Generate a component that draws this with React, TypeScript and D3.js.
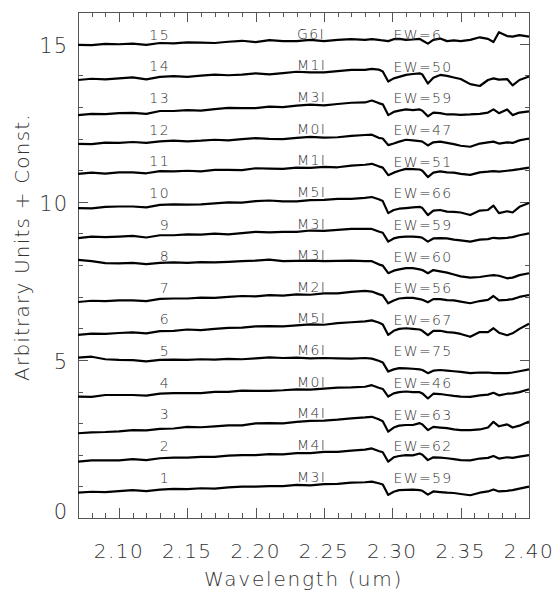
import React from 'react';
import * as d3 from 'd3';

// wavelength grid (um), coarse on the continuum, finer across the CO bands
const wavelength = [
  2.07, 2.08, 2.09, 2.10, 2.11, 2.12, 2.13, 2.14, 2.15, 2.16, 2.17,
  2.18, 2.19, 2.20, 2.21, 2.22, 2.23, 2.24, 2.25, 2.26, 2.27, 2.28,
  2.285, 2.290, 2.293, 2.297, 2.301, 2.305, 2.310, 2.315, 2.320, 2.322,
  2.326, 2.330, 2.335, 2.340, 2.345, 2.350, 2.357, 2.364, 2.370, 2.374,
  2.378, 2.384, 2.388, 2.393, 2.400
];

// flux + offset, one array per star
const flux1 = [0.80, 0.83, 0.82, 0.85, 0.88, 0.85, 0.90, 0.92, 0.91, 0.94, 0.93, 0.97, 0.99, 0.99, 1.01, 1.01, 1.05, 1.03, 1.07, 1.08, 1.12, 1.13,
  1.15, 1.10, 1.06, 0.73, 0.83, 0.88, 0.89, 0.90, 0.88, 0.86, 0.74, 0.84, 0.82, 0.80, 0.79, 0.76, 0.72, 0.80, 0.84, 0.90, 0.84, 0.86, 0.88, 0.93, 0.99];
const flux2 = [1.78, 1.82, 1.82, 1.82, 1.86, 1.83, 1.89, 1.91, 1.91, 1.93, 1.93, 1.97, 1.99, 1.99, 2.02, 2.01, 2.05, 2.05, 2.09, 2.09, 2.13, 2.16,
  2.20, 2.12, 2.08, 1.78, 1.92, 1.96, 1.99, 1.98, 2.04, 2.00, 1.83, 1.92, 1.91, 1.89, 1.86, 1.83, 1.82, 1.88, 1.90, 1.96, 1.88, 1.92, 1.90, 1.94, 1.99];
const flux3 = [2.68, 2.71, 2.72, 2.74, 2.78, 2.77, 2.82, 2.83, 2.88, 2.87, 2.90, 2.93, 2.93, 2.99, 3.00, 2.99, 3.04, 3.07, 3.08, 3.11, 3.15, 3.18,
  3.20, 3.12, 3.06, 2.73, 2.86, 2.92, 2.94, 2.94, 3.00, 2.96, 2.78, 2.88, 2.86, 2.84, 2.80, 2.78, 2.78, 2.80, 2.86, 3.04, 2.90, 2.96, 2.86, 2.92, 3.05];
const flux4 = [3.84, 3.83, 3.89, 3.89, 3.89, 3.87, 3.93, 3.95, 3.95, 3.95, 3.99, 3.99, 4.03, 4.02, 4.02, 4.04, 4.07, 4.06, 4.09, 4.12, 4.13, 4.15,
  4.20, 4.12, 4.08, 3.84, 3.94, 3.98, 4.00, 3.98, 3.98, 3.94, 3.78, 3.93, 3.92, 3.89, 3.86, 3.84, 3.83, 3.88, 3.90, 3.96, 3.88, 3.93, 3.94, 3.98, 4.07];
const flux5 = [5.07, 5.10, 5.02, 5.00, 4.99, 4.95, 5.00, 5.01, 5.00, 5.02, 5.01, 5.03, 5.02, 5.05, 5.08, 5.06, 5.07, 5.05, 5.06, 5.05, 5.04, 5.06,
  5.04, 4.97, 4.92, 4.63, 4.70, 4.74, 4.73, 4.72, 4.70, 4.68, 4.58, 4.66, 4.68, 4.66, 4.64, 4.62, 4.58, 4.60, 4.60, 4.58, 4.58, 4.58, 4.60, 4.64, 4.70];
const flux6 = [5.79, 5.83, 5.82, 5.85, 5.87, 5.84, 5.91, 5.92, 5.96, 5.94, 5.98, 6.01, 6.02, 6.06, 6.07, 6.06, 6.09, 6.12, 6.11, 6.16, 6.19, 6.22,
  6.25, 6.18, 6.12, 5.79, 5.92, 5.98, 6.00, 5.98, 5.96, 5.92, 5.78, 5.92, 5.92, 5.88, 5.86, 5.82, 5.73, 5.88, 5.88, 6.00, 5.86, 5.78, 5.84, 5.98, 6.14];
const flux7 = [6.83, 6.87, 6.86, 6.88, 6.88, 6.86, 6.93, 6.94, 6.94, 6.97, 6.96, 6.99, 7.02, 7.01, 7.05, 7.03, 7.07, 7.06, 7.10, 7.10, 7.15, 7.18,
  7.16, 7.08, 7.04, 6.79, 6.88, 6.94, 6.96, 6.96, 6.92, 6.90, 6.82, 6.92, 6.92, 6.89, 6.88, 6.84, 6.79, 6.86, 6.90, 7.02, 6.88, 6.90, 6.92, 6.99, 7.05];
const flux8 = [8.16, 8.12, 8.06, 8.05, 8.07, 8.03, 8.07, 8.08, 8.07, 8.09, 8.08, 8.10, 8.12, 8.14, 8.17, 8.12, 8.13, 8.14, 8.12, 8.13, 8.14, 8.12,
  8.12, 8.02, 7.98, 7.74, 7.82, 7.86, 7.90, 7.90, 7.86, 7.84, 7.74, 7.84, 7.80, 7.76, 7.70, 7.64, 7.60, 7.62, 7.66, 7.68, 7.66, 7.58, 7.60, 7.68, 7.74];
const flux9 = [8.85, 8.90, 8.88, 8.90, 8.92, 8.87, 8.94, 8.94, 8.97, 8.96, 8.99, 8.97, 9.01, 9.05, 9.03, 9.05, 9.05, 9.09, 9.08, 9.11, 9.14, 9.14,
  9.14, 9.06, 9.02, 8.74, 8.84, 8.88, 8.90, 8.90, 8.88, 8.86, 8.74, 8.84, 8.85, 8.84, 8.80, 8.78, 8.74, 8.80, 8.82, 8.86, 8.84, 8.86, 8.88, 8.94, 9.00];
const flux10 = [9.80, 9.79, 9.84, 9.85, 9.85, 9.82, 9.90, 9.92, 9.91, 9.92, 9.95, 9.98, 9.97, 10.02, 10.04, 10.01, 10.01, 10.05, 10.06, 10.09, 10.09, 10.12,
  10.15, 10.08, 10.02, 9.64, 9.74, 9.78, 9.80, 9.82, 9.84, 9.80, 9.58, 9.72, 9.74, 9.69, 9.68, 9.66, 9.58, 9.72, 9.74, 9.88, 9.64, 9.70, 9.66, 9.84, 9.96];
const flux11 = [10.88, 10.92, 10.89, 10.93, 10.93, 10.90, 10.97, 10.96, 10.98, 10.96, 11.01, 11.01, 11.00, 11.06, 11.05, 11.04, 11.08, 11.07, 11.10, 11.09, 11.14, 11.17,
  11.20, 11.12, 11.08, 10.84, 10.92, 10.98, 11.04, 11.03, 11.02, 10.98, 10.78, 10.92, 10.96, 10.93, 10.92, 10.88, 10.85, 10.93, 10.95, 10.97, 10.95, 10.98, 11.00, 11.03, 11.08];
const flux12 = [11.83, 11.82, 11.87, 11.86, 11.89, 11.86, 11.91, 11.93, 11.91, 11.93, 11.96, 11.94, 11.98, 12.01, 11.99, 11.98, 12.02, 12.05, 12.03, 12.04, 12.08, 12.11,
  12.12, 12.02, 12.00, 11.79, 11.84, 11.90, 11.96, 11.94, 11.92, 11.90, 11.78, 11.88, 11.90, 11.86, 11.82, 11.77, 11.74, 11.84, 11.88, 11.90, 11.84, 11.88, 11.86, 11.94, 12.00];
const flux13 = [12.74, 12.78, 12.77, 12.80, 12.81, 12.78, 12.87, 12.87, 12.90, 12.88, 12.93, 12.97, 12.96, 12.96, 13.01, 12.99, 13.04, 13.07, 13.05, 13.09, 13.13, 13.14,
  13.20, 13.12, 13.08, 12.74, 12.84, 12.88, 12.92, 12.90, 12.92, 12.88, 12.70, 12.82, 12.80, 12.76, 12.76, 12.75, 12.76, 12.78, 12.82, 12.92, 12.80, 12.92, 12.74, 12.82, 12.86];
const flux14 = [13.85, 13.89, 13.87, 13.90, 13.93, 13.87, 13.95, 13.97, 13.95, 13.99, 14.02, 14.00, 14.02, 14.06, 14.03, 14.07, 14.11, 14.09, 14.09, 14.13, 14.17, 14.17,
  14.20, 14.18, 14.12, 13.80, 13.90, 13.95, 14.01, 14.04, 14.06, 14.02, 13.74, 13.92, 14.01, 13.98, 13.93, 13.88, 13.72, 13.66, 13.85, 13.90, 13.86, 13.88, 13.68, 13.85, 13.96];
const flux15 = [14.96, 14.95, 14.99, 14.98, 15.00, 14.96, 15.02, 15.01, 15.04, 15.03, 15.02, 15.06, 15.09, 15.05, 15.11, 15.08, 15.08, 15.12, 15.08, 15.12, 15.14, 15.12,
  15.14, 15.12, 15.10, 15.08, 15.14, 15.15, 15.12, 15.13, 15.15, 15.10, 15.00, 15.12, 15.16, 15.08, 15.10, 15.08, 15.12, 15.20, 15.15, 15.05, 15.36, 15.24, 15.22, 15.27, 15.22];

const spectra = [flux1, flux2, flux3, flux4, flux5, flux6, flux7, flux8, flux9, flux10, flux11, flux12, flux13, flux14, flux15];
const starIds = [1, 2, 3, 4, 5, 6, 7, 8, 9, 10, 11, 12, 13, 14, 15];
const spectralTypes = ['M3I', 'M4I', 'M4I', 'M0I', 'M6I', 'M5I', 'M2I', 'M3I', 'M3I', 'M5I', 'M1I', 'M0I', 'M3I', 'M1I', 'G6I'];
const ewValues = [59, 62, 63, 46, 75, 67, 56, 60, 59, 66, 51, 47, 59, 50, 6];
const xTickLabels = [2.10, 2.15, 2.20, 2.25, 2.30, 2.35, 2.40];
const yTickLabels = [0, 5, 10, 15];

const W = 558, H = 600;
const margin = { left: 78, right: 29, top: 12, bottom: 82 };
const font = '"DejaVu Sans", sans-serif';
const textCol = '#333';
const axisCol = '#555';

export default function App() {
  const x = d3.scaleLinear().domain([2.07, 2.40]).range([margin.left, W - margin.right]);
  const y = d3.scaleLinear().domain([0, 16]).range([H - margin.bottom, margin.top]);
  const line = d3.line<number>()
    .x((d, i) => x(wavelength[i]))
    .y(d => y(d));

  const left = x.range()[0], right = x.range()[1];
  const bottom = y.range()[0], top = y.range()[1];

  // minor ticks every 0.01 um and every unit, majors are longer
  const xMinor = d3.range(207, 241, 1);
  const yMinor = d3.range(0, 17, 1);

  return (
    <svg width={W} height={H} style={{ position: 'absolute', left: 0, top: 0, background: '#fff' }}>
      {/* frame */}
      <rect x={left + 0.5} y={top + 0.5} width={right - left} height={bottom - top} fill="none" stroke={axisCol} strokeWidth={1} />

      {/* ticks on all four sides */}
      {xMinor.map(c => {
        const len = c % 5 === 0 ? 10 : 5;
        const px = Math.round(x(c / 100));
        return (
          <g key={'xt' + c} fill={axisCol}>
            <rect x={px} y={bottom - len} width={1} height={len} />
            <rect x={px} y={top} width={1} height={len} />
          </g>
        );
      })}
      {yMinor.map(v => {
        const len = v % 5 === 0 ? 10 : 5;
        const py = Math.round(y(v));
        return (
          <g key={'yt' + v} fill={axisCol}>
            <rect x={left} y={py} width={len} height={1} />
            <rect x={right - len + 1} y={py} width={len} height={1} />
          </g>
        );
      })}

      {/* tick labels */}
      {xTickLabels.map(v => (
        <text key={'xl' + v} x={x(v)} y={bottom + 40} textAnchor="middle" fontFamily={font} fontWeight={200}
          fontSize={20} letterSpacing={1.5} fill={textCol}>{v.toFixed(2)}</text>
      ))}
      {yTickLabels.map(v => (
        <text key={'yl' + v} x={left - 10} y={Math.min(y(v) + 2, y(0) - 7)} dy="0.36em" textAnchor="end" fontFamily={font}
          fontWeight={200} fontSize={21} letterSpacing={1} fill={textCol}>{v}</text>
      ))}

      {/* axis titles */}
      <text x={(left + right) / 2} y={586} textAnchor="middle" fontFamily={font} fontWeight={200} fontSize={20}
        letterSpacing={1.8} fill={textCol}>Wavelength (um)</text>
      <text transform={`translate(29,247) rotate(-90)`} textAnchor="middle" fontFamily={font} fontWeight={200}
        fontSize={20} letterSpacing={1.2} fill={textCol}>Arbitrary Units + Const.</text>

      {/* spectra */}
      {spectra.map((s, i) => (
        <path key={'sp' + i} d={line(s) || ''} fill="none" stroke="#000" strokeWidth={2.2} strokeLinejoin="round" />
      ))}

      {/* per-star labels */}
      {starIds.map((id, i) => (
        <g key={'lab' + id} fontFamily={font} fontWeight={200} fontSize={14} fill={textCol}>
          <text x={x(2.1373)} y={y(id + 0.28)} dy="0.36em" textAnchor="end" letterSpacing={1.4}>{id}</text>
          <text x={x(2.2303)} y={y(id + 0.31)} dy="0.36em" letterSpacing={1.3}>{spectralTypes[i]}</text>
          <text x={x(2.3008)} y={y(id + 0.27)} dy="0.36em" letterSpacing={1.4}>{'EW=' + ewValues[i]}</text>
        </g>
      ))}
    </svg>
  );
}
